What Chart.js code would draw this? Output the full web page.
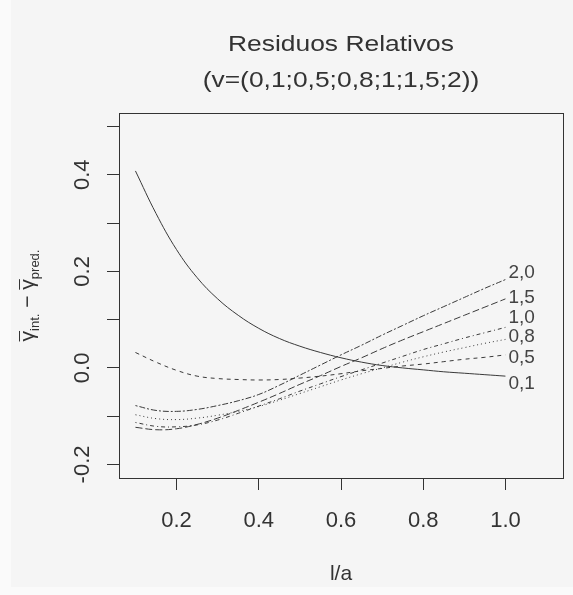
<!DOCTYPE html>
<html>
<head>
<meta charset="utf-8">
<script src="https://cdn.jsdelivr.net/npm/chart.js@4"></script>
<style>
  html, body { margin: 0; padding: 0; background: #fafafa; }
  canvas { display: block; }
</style>
</head>
<body>
<canvas id="chart" width="573" height="595"></canvas>
<script>
/* ─── Data ────────────────────────────────────────────────── */
const X_VALUES = [0.10, 0.15, 0.20, 0.25, 0.30, 0.35, 0.40, 0.45, 0.50, 0.55,
                  0.60, 0.65, 0.70, 0.75, 0.80, 0.85, 0.90, 0.95, 1.00];

const V01 = [0.408, 0.320, 0.245, 0.187, 0.143, 0.109, 0.082, 0.061, 0.045, 0.032,
             0.021, 0.012, 0.005, 0.000, -0.004, -0.008, -0.011, -0.014, -0.017];
const V05 = [0.032, 0.012, -0.005, -0.017, -0.022, -0.024, -0.025, -0.024, -0.021, -0.017,
             -0.012, -0.006, -0.001, 0.004, 0.008, 0.013, 0.018, 0.022, 0.027];
const V08 = [-0.097, -0.105, -0.107, -0.104, -0.098, -0.090, -0.080, -0.067, -0.053, -0.039,
             -0.025, -0.012, 0.000, 0.012, 0.023, 0.033, 0.042, 0.051, 0.059];
const V10 = [-0.113, -0.121, -0.122, -0.118, -0.108, -0.094, -0.079, -0.064, -0.048, -0.033,
             -0.018, -0.004, 0.010, 0.024, 0.038, 0.050, 0.062, 0.073, 0.084];
const V15 = [-0.123, -0.128, -0.126, -0.117, -0.104, -0.088, -0.071, -0.053, -0.034, -0.016,
             0.003, 0.021, 0.040, 0.058, 0.075, 0.092, 0.109, 0.126, 0.143];
const V20 = [-0.078, -0.088, -0.090, -0.086, -0.078, -0.068, -0.055, -0.036, -0.015, 0.006,
             0.027, 0.047, 0.068, 0.088, 0.108, 0.127, 0.146, 0.165, 0.183];

const SERIES_LABELS = ['0,1', '0,5', '0,8', '1,0', '1,5', '2,0'];
const LABEL_Y       = [-0.032, 0.022, 0.064, 0.104, 0.146, 0.198];
const TITLE_LINES   = ['Residuos Relativos', '(v=(0,1;0,5;0,8;1;1,5;2))'];
const X_TITLE       = 'l/a';

/* ─── Styles ──────────────────────────────────────────────── */
const INK    = '#333333';
const LINE   = '#3a3a3a';
const FAMILY = "'Liberation Sans', Arial, sans-serif";
// R line types: solid, dashed, dotted, dotdash, longdash, twodash
const DASHES = [[], [4, 4], [1, 3], [1, 3, 4, 3], [7, 3], [2, 2, 6, 2]];

const pts = ys => X_VALUES.map((x, i) => ({ x, y: ys[i] }));
const SERIES = [V01, V05, V08, V10, V15, V20];

/* ─── Plugins ─────────────────────────────────────────────── */
const backdrop = {
  id: 'backdrop',
  beforeDraw(chart) {
    const { ctx, width, height } = chart;
    ctx.save();
    ctx.fillStyle = '#fafafa';
    ctx.fillRect(0, 0, width, height);
    ctx.fillStyle = '#f5f5f5';
    ctx.fillRect(11, 0, width - 11, height - 8);
    ctx.restore();
  },
  afterDraw(chart) {
    const { ctx, chartArea: a } = chart;
    ctx.save();
    ctx.strokeStyle = INK;
    ctx.lineWidth = 1;
    ctx.strokeRect(Math.round(a.left) + 0.5, Math.round(a.top) + 0.5,
                   Math.round(a.right - a.left), Math.round(a.bottom - a.top));
    ctx.restore();
  },
};

// title drawn by hand: the original font is wider than Liberation Sans
const wideTitle = {
  id: 'wideTitle',
  afterDraw(chart) {
    const { ctx, chartArea: a } = chart;
    const cx = (a.left + a.right) / 2;
    ctx.save();
    ctx.font = `22px ${FAMILY}`;
    ctx.fillStyle = INK;
    ctx.textAlign = 'center';
    ctx.textBaseline = 'middle';
    TITLE_LINES.forEach((t, i) => {
      ctx.save();
      ctx.translate(cx, 45 + i * 36);
      ctx.scale(1.2, 1);
      ctx.fillText(t, 0, 0);
      ctx.restore();
    });
    ctx.restore();
  },
};

const endLabels = {
  id: 'endLabels',
  afterDatasetsDraw(chart) {
    const { ctx, scales: { x, y } } = chart;
    ctx.save();
    ctx.font = `19px ${FAMILY}`;
    ctx.fillStyle = '#444';
    ctx.textAlign = 'left';
    ctx.textBaseline = 'middle';
    SERIES_LABELS.forEach((t, i) => {
      ctx.fillText(t, x.getPixelForValue(X_VALUES[X_VALUES.length - 1]) + 3, y.getPixelForValue(LABEL_Y[i]));
    });
    ctx.restore();
  },
};

const yTitle = {
  id: 'yTitle',
  afterDraw(chart) {
    const { ctx, chartArea: a } = chart;
    const big = `21px ${FAMILY}`, small = `13px ${FAMILY}`;
    const parts = [
      { t: 'γ', f: big, dy: 0, bar: true },
      { t: 'int.', f: small, dy: 5 },
      { t: ' − ', f: big, dy: 0 },
      { t: 'γ', f: big, dy: 0, bar: true },
      { t: 'pred.', f: small, dy: 5 },
    ];
    ctx.save();
    ctx.translate(34, (a.top + a.bottom) / 2);
    ctx.rotate(-Math.PI / 2);
    ctx.fillStyle = INK;
    let total = 0;
    parts.forEach(p => { ctx.font = p.f; p.w = ctx.measureText(p.t).width; total += p.w; });
    let cx = -total / 2;
    ctx.textAlign = 'left';
    ctx.textBaseline = 'alphabetic';
    parts.forEach(p => {
      ctx.font = p.f;
      ctx.fillText(p.t, cx, p.dy);
      if (p.bar) ctx.fillRect(cx, -15, p.w, 1);
      cx += p.w;
    });
    ctx.restore();
  },
};

/* ─── Chart ───────────────────────────────────────────────── */
new Chart(document.getElementById('chart'), {
  type: 'line',
  data: {
    datasets: SERIES.map((ys, i) => ({
      label: SERIES_LABELS[i],
      data: pts(ys),
      borderColor: LINE,
      borderWidth: 1,
      borderDash: DASHES[i],
      pointRadius: 0,
      fill: false,
      tension: 0.4,
    })),
  },
  options: {
    responsive: false,
    animation: false,
    devicePixelRatio: 1,
    layout: { padding: { left: 0, right: 10, top: 113, bottom: 0 } },
    plugins: {
      legend: { display: false },
      tooltip: { enabled: false },
      title: { display: false },
    },
    scales: {
      x: {
        type: 'linear',
        min: 0.06,
        max: 1.14,
        afterFit: s => { s.height = 117; },
        border: { display: false },
        grid: { drawOnChartArea: false, drawTicks: true, tickLength: 12, color: INK },
        ticks: {
          stepSize: 0.2,
          includeBounds: false,
          autoSkip: false,
          maxRotation: 0,
          padding: 18,
          color: INK,
          font: { family: FAMILY, size: 22 },
          callback: v => v.toFixed(1),
        },
        title: {
          display: true,
          text: X_TITLE,
          color: INK,
          font: { family: FAMILY, size: 21 },
          padding: { top: 0, bottom: 8 },
        },
      },
      y: {
        type: 'linear',
        min: -0.228,
        max: 0.528,
        afterFit: s => { s.width = 119; },
        border: { display: false },
        grid: { drawOnChartArea: false, drawTicks: true, tickLength: 12, color: INK },
        ticks: {
          stepSize: 0.1,
          includeBounds: false,
          autoSkip: false,
          minRotation: 90,
          maxRotation: 90,
          crossAlign: 'center',
          padding: 5,
          color: INK,
          font: { family: FAMILY, size: 22 },
          callback: v => (Math.round(v * 10) % 2 === 0 ? v.toFixed(1) : ''),
        },
      },
    },
  },
  plugins: [backdrop, wideTitle, endLabels, yTitle],
});
</script>
</body>
</html>
